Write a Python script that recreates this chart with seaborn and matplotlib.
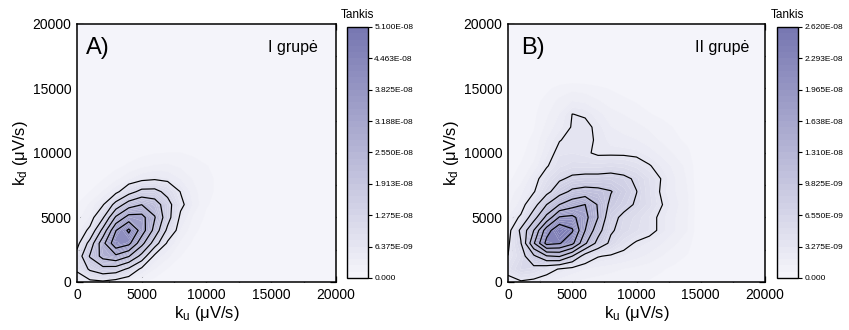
import numpy as np
import matplotlib
matplotlib.use("Agg")
import matplotlib.pyplot as plt
import seaborn as sns
from matplotlib.ticker import MultipleLocator

# ---------------- data (density, units of 1e-8; rows = k_d 0,1000,..., cols = k_u 0,1000,...) -------------
KU = list(range(0, 21000, 1000))
KD = list(range(0, 21000, 1000))

dens_A = [
    [0.30, 0.49, 0.55, 0.41, 0.25, 0.14, 0.07, 0.04, 0.02, 0.01, 0.00, 0.00, 0.00, 0.00, 0.00, 0.00],
    [0.73, 1.37, 1.70, 1.62, 1.16, 0.51, 0.26, 0.12, 0.05, 0.03, 0.01, 0.01, 0.00, 0.00, 0.00, 0.00],
    [0.85, 1.97, 2.77, 3.05, 2.59, 1.70, 0.50, 0.29, 0.13, 0.06, 0.03, 0.01, 0.01, 0.00, 0.00, 0.00],
    [0.45, 1.50, 2.98, 4.30, 4.00, 2.76, 1.60, 0.54, 0.23, 0.10, 0.04, 0.02, 0.01, 0.01, 0.00, 0.00],
    [0.30, 0.75, 2.10, 3.80, 4.58, 3.53, 2.33, 1.12, 0.38, 0.16, 0.07, 0.04, 0.03, 0.02, 0.01, 0.00],
    [0.20, 0.40, 1.20, 2.65, 3.45, 3.41, 2.59, 1.52, 0.53, 0.23, 0.10, 0.06, 0.05, 0.04, 0.02, 0.01],
    [0.13, 0.28, 0.59, 1.50, 2.24, 2.54, 2.25, 1.51, 0.75, 0.35, 0.14, 0.08, 0.06, 0.05, 0.03, 0.02],
    [0.06, 0.13, 0.27, 0.50, 1.03, 1.46, 1.47, 1.08, 0.62, 0.30, 0.16, 0.10, 0.08, 0.07, 0.05, 0.02],
    [0.01, 0.06, 0.12, 0.22, 0.36, 0.50, 0.58, 0.52, 0.38, 0.24, 0.15, 0.11, 0.09, 0.08, 0.06, 0.02],
    [0.01, 0.03, 0.05, 0.09, 0.15, 0.22, 0.27, 0.28, 0.23, 0.17, 0.13, 0.11, 0.10, 0.09, 0.06, 0.02],
    [0.00, 0.01, 0.02, 0.04, 0.06, 0.09, 0.12, 0.13, 0.13, 0.11, 0.10, 0.10, 0.09, 0.09, 0.06, 0.02],
    [0.00, 0.00, 0.01, 0.02, 0.03, 0.04, 0.05, 0.06, 0.06, 0.06, 0.07, 0.07, 0.07, 0.06, 0.04, 0.01],
    [0.00, 0.00, 0.00, 0.01, 0.02, 0.02, 0.02, 0.03, 0.03, 0.03, 0.03, 0.03, 0.03, 0.03, 0.02, 0.00],
]

dens_B = [
    [0.22, 0.30, 0.26, 0.20, 0.16, 0.13, 0.11, 0.10, 0.09, 0.08, 0.07, 0.06, 0.05, 0.04, 0.03],
    [0.43, 0.60, 0.56, 0.43, 0.31, 0.24, 0.20, 0.17, 0.15, 0.13, 0.11, 0.09, 0.07, 0.05, 0.04],
    [0.33, 0.52, 0.92, 1.28, 1.34, 0.98, 0.50, 0.34, 0.30, 0.26, 0.22, 0.18, 0.13, 0.09, 0.06],
    [0.29, 0.64, 1.60, 2.40, 2.32, 2.05, 1.36, 0.87, 0.59, 0.41, 0.30, 0.25, 0.20, 0.14, 0.09],
    [0.22, 0.72, 1.31, 2.15, 2.55, 2.33, 1.64, 1.11, 0.69, 0.56, 0.47, 0.39, 0.28, 0.20, 0.13],
    [0.20, 0.36, 0.85, 1.40, 2.00, 2.05, 1.74, 1.31, 0.75, 0.59, 0.50, 0.39, 0.28, 0.20, 0.13],
    [0.12, 0.23, 0.52, 0.98, 1.31, 1.50, 1.64, 1.28, 0.90, 0.75, 0.62, 0.49, 0.33, 0.22, 0.14],
    [0.08, 0.18, 0.31, 0.56, 0.85, 1.05, 1.11, 1.08, 1.00, 0.82, 0.66, 0.47, 0.29, 0.20, 0.13],
    [0.05, 0.10, 0.26, 0.43, 0.61, 0.72, 0.75, 0.75, 0.77, 0.72, 0.61, 0.46, 0.31, 0.20, 0.12],
    [0.04, 0.07, 0.15, 0.31, 0.44, 0.49, 0.49, 0.49, 0.51, 0.49, 0.43, 0.34, 0.25, 0.17, 0.11],
    [0.03, 0.05, 0.10, 0.25, 0.38, 0.39, 0.36, 0.29, 0.29, 0.29, 0.28, 0.23, 0.17, 0.12, 0.08],
    [0.02, 0.04, 0.08, 0.20, 0.32, 0.37, 0.36, 0.31, 0.24, 0.22, 0.20, 0.16, 0.12, 0.08, 0.05],
    [0.02, 0.03, 0.06, 0.15, 0.24, 0.34, 0.37, 0.29, 0.20, 0.17, 0.15, 0.12, 0.09, 0.06, 0.04],
    [0.01, 0.02, 0.05, 0.12, 0.20, 0.33, 0.31, 0.22, 0.16, 0.13, 0.10, 0.07, 0.05, 0.03, 0.02],
    [0.01, 0.02, 0.04, 0.09, 0.15, 0.20, 0.18, 0.14, 0.10, 0.08, 0.06, 0.04, 0.03, 0.02, 0.01],
    [0.00, 0.01, 0.02, 0.05, 0.09, 0.11, 0.10, 0.08, 0.06, 0.04, 0.03, 0.02, 0.01, 0.01, 0.00],
]

cbar_ticks_A = [0.0, 6.375e-9, 1.275e-8, 1.913e-8, 2.550e-8, 3.188e-8, 3.825e-8, 4.463e-8, 5.100e-8]
cbar_labels_A = ["0.000", "6.375E-09", "1.275E-08", "1.913E-08", "2.550E-08",
                 "3.188E-08", "3.825E-08", "4.463E-08", "5.100E-08"]
cbar_ticks_B = [0.0, 3.275e-9, 6.550e-9, 9.825e-9, 1.310e-8, 1.638e-8, 1.965e-8, 2.293e-8, 2.620e-8]
cbar_labels_B = ["0.000", "3.275E-09", "6.550E-09", "9.825E-09", "1.310E-08",
                 "1.638E-08", "1.965E-08", "2.293E-08", "2.620E-08"]

axis_ticks = [0, 5000, 10000, 15000, 20000]

# ---------------- style ----------------
sns.set_theme(style="ticks")
plt.rcParams["font.family"] = ["Liberation Sans", "DejaVu Sans"]
plt.rcParams["mathtext.fontset"] = "custom"
plt.rcParams["mathtext.rm"] = "Liberation Sans"
plt.rcParams["mathtext.it"] = "Liberation Sans"
plt.rcParams["mathtext.default"] = "regular"
for key in ["text.color", "axes.labelcolor", "xtick.color", "ytick.color", "axes.edgecolor"]:
    plt.rcParams[key] = "black"

LOW = "#F6F6FB"
cmap = sns.blend_palette([LOW, "#7676B1"], as_cmap=True)

fig = plt.figure(figsize=(8.49, 3.30), dpi=100)
axA = fig.add_axes([0.0907, 0.1455, 0.305, 0.782])
caxA = fig.add_axes([0.4087, 0.1576, 0.0247, 0.7606])
axB = fig.add_axes([0.5984, 0.1455, 0.3027, 0.782])
caxB = fig.add_axes([0.9152, 0.1576, 0.0247, 0.7606])


def full_grid(rows):
    z = np.zeros((len(KD), len(KU)))
    arr = np.array(rows) * 1e-8
    z[:arr.shape[0], :arr.shape[1]] = arr
    return z


def panel(ax, cax, rows, ticks, labels, letter, group, lx, gx):
    Z = full_grid(rows)
    X, Y = np.meshgrid(KU, KD)
    vmax = ticks[-1]
    cf = ax.contourf(X, Y, Z, levels=np.linspace(0, vmax, 41), cmap=cmap,
                     vmin=0, vmax=vmax, antialiased=True)
    ax.contour(X, Y, Z, levels=ticks[1:-1], colors="black", linewidths=0.85)
    ax.set_facecolor(LOW)
    ax.set_xlim(0, 20000)
    ax.set_ylim(0, 20000)
    ax.set_xticks(axis_ticks)
    ax.set_yticks(axis_ticks)
    ax.xaxis.set_minor_locator(MultipleLocator(2500))
    ax.yaxis.set_minor_locator(MultipleLocator(2500))
    ax.tick_params(which="both", direction="in", top=True, right=True,
                   width=0.9, colors="black", labelsize=10, pad=4)
    ax.tick_params(which="major", length=4.5)
    ax.tick_params(which="minor", length=3)
    for s in ax.spines.values():
        s.set_linewidth(1.1)
        s.set_color("black")
    ax.set_xlabel("k$_{u}$ (\u03bcV/s)", fontsize=12, labelpad=2)
    ax.set_ylabel("k$_{d}$ (\u03bcV/s)", fontsize=12, labelpad=2)
    ax.text(lx, 18100, letter, fontsize=17, ha="left", va="center")
    ax.text(gx, 18200, group, fontsize=11.5, ha="right", va="center")

    cb = fig.colorbar(cf, cax=cax, ticks=ticks)
    cb.ax.set_yticklabels(labels)
    cb.ax.tick_params(labelsize=6, length=3, width=0.8, pad=1.5, colors="black")
    cb.ax.minorticks_off()
    cb.outline.set_linewidth(1.0)
    cb.outline.set_edgecolor("black")
    cax.text(0.5, 1.025, "Tankis", transform=cax.transAxes, ha="center",
             va="bottom", fontsize=8.5)


panel(axA, caxA, dens_A, cbar_ticks_A, cbar_labels_A, "A)", "I grup\u0117", 700, 18600)
panel(axB, caxB, dens_B, cbar_ticks_B, cbar_labels_B, "B)", "II grup\u0117", 1000, 18800)

fig.savefig("out.png", dpi=100)
